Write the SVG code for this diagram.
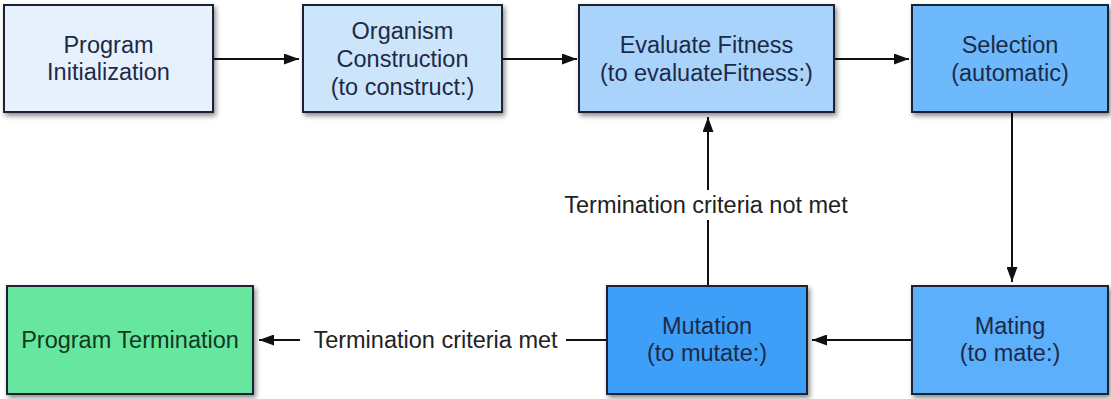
<svg xmlns="http://www.w3.org/2000/svg" width="1111" height="399" viewBox="0 0 1111 399">
<defs>
<filter id="sh" x="-10%" y="-10%" width="125%" height="130%">
<feDropShadow dx="2" dy="3" stdDeviation="2.5" flood-color="#000" flood-opacity="0.45"/>
</filter>
<marker id="ah" viewBox="0 0 15 11" refX="15" refY="5.5" markerWidth="15" markerHeight="11" markerUnits="userSpaceOnUse" orient="auto">
<path d="M0,0 L15,5.5 L0,11 Z" fill="#111"/>
</marker>
<style>
.box{stroke:#1b2330;stroke-width:2;filter:url(#sh);}
.t{font-family:"Liberation Sans",Arial,sans-serif;font-size:23.5px;text-anchor:middle;fill:#1c2a48;}
.lbl{font-family:"Liberation Sans",Arial,sans-serif;font-size:23.5px;text-anchor:middle;fill:#222;}
.c{stroke:#111;stroke-width:2;fill:none;}
</style>
</defs>
<rect width="1111" height="399" fill="#fff"/>
<g id="connectors">
<line class="c" x1="213" y1="59" x2="299" y2="59" marker-end="url(#ah)"/>
<line class="c" x1="502" y1="59" x2="577" y2="59" marker-end="url(#ah)"/>
<line class="c" x1="834" y1="59" x2="909" y2="59" marker-end="url(#ah)"/>
<line class="c" x1="1012" y1="112" x2="1012" y2="282" marker-end="url(#ah)"/>
<line class="c" x1="912" y1="340" x2="812" y2="340" marker-end="url(#ah)"/>
<line class="c" x1="708" y1="286" x2="708" y2="220"/>
<line class="c" x1="708" y1="190" x2="708" y2="117" marker-end="url(#ah)"/>
<text class="lbl" x="706" y="213">Termination criteria not met</text>
<line class="c" x1="607" y1="340" x2="566" y2="340"/>
<line class="c" x1="300" y1="340" x2="259" y2="340" marker-end="url(#ah)"/>
<text class="lbl" x="435.5" y="348">Termination criteria met</text>
</g>
<g id="n1">
<rect class="box" x="4" y="5" width="209" height="107" fill="#e7f1fd"/>
<text class="t" x="108.5" y="53">Program</text>
<text class="t" x="108.5" y="80">Initialization</text>
</g>
<g id="n2">
<rect class="box" x="303" y="5" width="199" height="107" fill="#cde5fb"/>
<text class="t" x="402.5" y="39">Organism</text>
<text class="t" x="402.5" y="67">Construction</text>
<text class="t" x="402.5" y="95">(to construct:)</text>
</g>
<g id="n3">
<rect class="box" x="579" y="5" width="255" height="107" fill="#a9d3fb"/>
<text class="t" x="706.5" y="53">Evaluate Fitness</text>
<text class="t" x="706.5" y="81">(to evaluateFitness:)</text>
</g>
<g id="n4">
<rect class="box" x="912" y="5" width="196" height="107" fill="#6db9fb"/>
<text class="t" x="1010" y="53">Selection</text>
<text class="t" x="1010" y="81">(automatic)</text>
</g>
<g id="n5">
<rect class="box" x="912" y="286" width="196" height="108" fill="#5caffb"/>
<text class="t" x="1010" y="334">Mating</text>
<text class="t" x="1010" y="361">(to mate:)</text>
</g>
<g id="n6">
<rect class="box" x="607" y="286" width="200" height="108" fill="#3e9ff8"/>
<text class="t" x="707" y="334">Mutation</text>
<text class="t" x="707" y="361">(to mutate:)</text>
</g>
<g id="n7">
<rect class="box" x="7" y="286" width="246" height="108" fill="#66e69e"/>
<text class="t" x="130" y="348" style="fill:#10391f">Program Termination</text>
</g>
</svg>
